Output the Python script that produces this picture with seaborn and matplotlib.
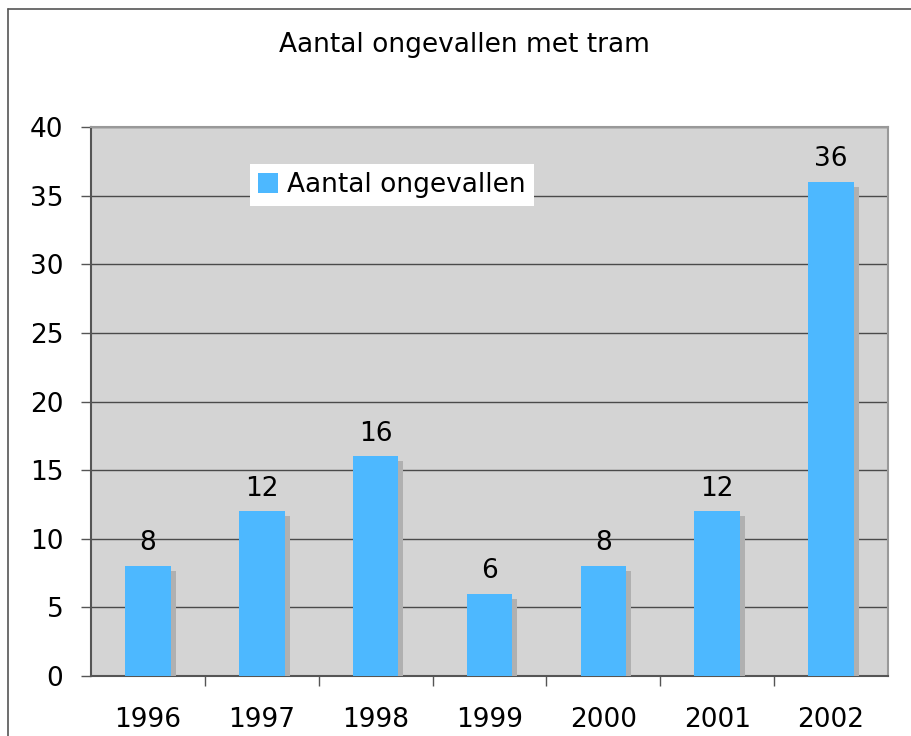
import pandas as pd
import matplotlib.pyplot as plt
import matplotlib.patheffects as pe
from matplotlib.lines import Line2D
from matplotlib.ticker import FixedLocator
import seaborn as sns

# ---------------- Data ----------------
jaren = ["1996", "1997", "1998", "1999", "2000", "2001", "2002"]
ongevallen = [8, 12, 16, 6, 8, 12, 36]
reeks = "Aantal ongevallen"
titel = "Aantal ongevallen met tram"

df = pd.DataFrame({"Jaar": jaren, "Aantal": ongevallen})

sns.set_style("white")
plt.rcParams["font.family"] = ["DejaVu Sans"]
plt.rcParams["text.color"] = "black"
plt.rcParams["xtick.labelcolor"] = "black"
plt.rcParams["ytick.labelcolor"] = "black"

fig = plt.figure(figsize=(9.11, 7.36), dpi=100)
ax = fig.add_axes([91 / 911, 1 - 676 / 736, 797 / 911, 549 / 736])

# ---------------- Bars ----------------
sns.barplot(data=df, x="Jaar", y="Aantal", color="#4db8ff", saturation=1,
            width=0.4, label=reeks, ax=ax, zorder=3)
shadow = [pe.SimplePatchShadow(offset=(3.6, -3.6), shadow_rgbFace="#b0b0b0", alpha=1),
          pe.Normal()]
for bar in ax.patches:
    bar.set_path_effects(shadow)
    bar.set_edgecolor("none")
ax.bar_label(ax.containers[0], padding=7, fontsize=19)

# ---------------- Axes styling ----------------
ax.set_facecolor("#d4d4d4")
ax.set_xlim(-0.5, len(jaren) - 0.5)
ax.set_ylim(0, 40)
ax.set_yticks(range(0, 41, 5))
ax.yaxis.grid(True, color="#4a4a4a", linewidth=1)
ax.set_axisbelow(True)
ax.set_xlabel("")
ax.set_ylabel("")

ax.tick_params(axis="y", which="major", direction="out", length=7, width=1,
               color="#555555", labelsize=19, pad=13, left=True)
ax.tick_params(axis="x", which="major", length=0, labelsize=19, pad=22)
ax.xaxis.set_minor_locator(FixedLocator([i + 0.5 for i in range(len(jaren) - 1)]))
ax.tick_params(axis="x", which="minor", direction="out", length=7, width=1,
               color="#555555", bottom=True)

for side in ["left", "bottom"]:
    ax.spines[side].set_color("#555555")
    ax.spines[side].set_linewidth(1.5)
for side in ["top", "right"]:
    ax.spines[side].set_color("#999999")
    ax.spines[side].set_linewidth(1.5)

leg = ax.legend(loc="upper left", bbox_to_anchor=(0.2, 0.932), fontsize=19,
                frameon=True, fancybox=False, framealpha=1, facecolor="white",
                edgecolor="none", handlelength=0.75, handleheight=0.75,
                handletextpad=0.35, borderpad=0.3, borderaxespad=0)
for handle in leg.legend_handles:
    handle.set_path_effects([])

# ---------------- Title and frame ----------------
fig.text(0.51, 1 - 45 / 736, titel, ha="center", va="center", fontsize=19)
fig.add_artist(Line2D([8 / 911, 8 / 911], [0, 1 - 9 / 736], color="#555555", linewidth=1.2))
fig.add_artist(Line2D([8 / 911, 1], [1 - 9 / 736, 1 - 9 / 736], color="#555555", linewidth=1.2))

fig.savefig("out.png", dpi=100)
